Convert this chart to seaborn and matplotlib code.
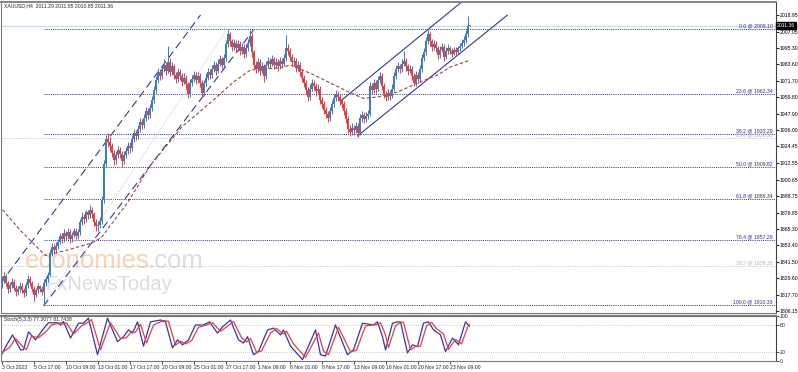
import matplotlib
matplotlib.use("Agg")
import matplotlib.pyplot as plt
import seaborn as sns
import numpy as np

# ---------------- datos ----------------
titulo = "XAUUSD,H4  2011.29 2011.85 2010.85 2011.36"
stoch_titulo = "Stoch(5,3,3) 77.3077 81.7438"

etiquetas_fecha = ["3 Oct 2023", "5 Oct 17:00", "10 Oct 09:00", "13 Oct 01:00", "17 Oct 17:00",
                   "20 Oct 09:00", "25 Oct 01:00", "27 Oct 17:00", "1 Nov 09:00", "6 Nov 01:00",
                   "8 Nov 17:00", "13 Nov 09:00", "16 Nov 01:00", "20 Nov 17:00", "23 Nov 09:00"]
barras_fecha = [0, 16, 32, 48, 64, 80, 96, 112, 128, 144, 160, 176, 192, 208, 224]

apertura_inicial = 1826
cierres = [1828, 1831, 1826, 1822, 1825, 1827, 1823, 1820, 1822, 1824, 1821, 1819, 1825, 1829, 1826, 1822,
           1818, 1821, 1824, 1822, 1820, 1826, 1829, 1832, 1848, 1852, 1850, 1853, 1856, 1860, 1858, 1862,
           1860, 1863, 1858, 1861, 1864, 1860, 1863, 1870, 1874, 1872, 1877, 1875, 1879, 1876, 1870, 1867,
           1868, 1871, 1886, 1912, 1930, 1928, 1925, 1920, 1915, 1918, 1922, 1919, 1914, 1918, 1921, 1925,
           1923, 1930, 1934, 1932, 1937, 1942, 1940, 1945, 1950, 1947, 1952, 1958, 1965, 1972, 1978, 1975,
           1980, 1983, 1979, 1985, 1978, 1982, 1976, 1973, 1978, 1975, 1971, 1974, 1969, 1962, 1970, 1973,
           1976, 1972, 1975, 1970, 1963, 1970, 1974, 1978, 1976, 1980, 1983, 1979, 1984, 1987, 1983, 1988,
           1998, 2005, 2000, 1996, 1999, 1995, 1998, 1993, 1996, 1991, 1995, 1999, 2004, 1992, 1983, 1980,
           1985, 1979, 1982, 1975, 1983, 1986, 1984, 1987, 1983, 1985, 1982, 1986, 1984, 1988, 1995, 1993,
           1989, 1985, 1986, 1981, 1983, 1978, 1974, 1970, 1965, 1960, 1966, 1970, 1968, 1964, 1966, 1958,
           1955, 1951, 1948, 1945, 1950, 1955, 1959, 1962, 1960, 1957, 1955, 1950, 1944, 1937, 1935, 1938,
           1936, 1939, 1934, 1945, 1947, 1944, 1946, 1948, 1968, 1965, 1970, 1966, 1972, 1975, 1968, 1962,
           1960, 1963, 1961, 1966, 1975, 1980, 1982, 1980, 1984, 1986, 1982, 1979, 1980, 1975, 1970, 1976,
           1973, 1980, 1988, 1992, 2000, 2005, 2000, 1996, 1998, 1995, 1990, 1994, 1996, 1989, 1993, 1995,
           1993, 1991, 1994, 1992, 1995, 1997, 1999, 2001, 2005, 2011.29, 2011.36]
maximos = [1831, 1834, 1833, 1828, 1827, 1830, 1829, 1825, 1824, 1827, 1826, 1823, 1827, 1832, 1831, 1828,
           1824, 1823, 1826, 1825, 1824, 1829, 1831, 1834, 1851, 1855, 1854, 1856, 1858, 1862, 1862, 1865,
           1864, 1866, 1865, 1863, 1866, 1866, 1865, 1872, 1877, 1876, 1879, 1879, 1882, 1881, 1877, 1872,
           1871, 1874, 1889, 1915, 1933, 1934, 1931, 1927, 1922, 1921, 1925, 1924, 1921, 1921, 1924, 1928,
           1928, 1933, 1937, 1936, 1940, 1945, 1944, 1948, 1953, 1952, 1955, 1961, 1968, 1975, 1981, 1980,
           1983, 1987, 1985, 1997, 1988, 1985, 1984, 1978, 1981, 1980, 1977, 1977, 1976, 1971, 1973, 1976,
           1979, 1978, 1978, 1977, 1972, 1972, 1977, 1981, 1980, 1983, 1986, 1985, 1987, 1990, 1989, 1991,
           2001, 2009.1, 2007, 2002, 2002, 2001, 2001, 2000, 1999, 1998, 1998, 2002, 2008, 2006, 1994, 1986,
           1988, 1987, 1985, 1984, 1986, 1989, 1988, 1990, 1989, 1988, 1987, 1989, 1988, 1991, 2004.5, 1998,
           1995, 1991, 1989, 1988, 1986, 1985, 1980, 1976, 1972, 1967, 1969, 1973, 1972, 1970, 1969, 1968,
           1960, 1957, 1953, 1950, 1953, 1958, 1962, 1965, 1964, 1962, 1959, 1957, 1952, 1946, 1940, 1941,
           1940, 1942, 1941, 1948, 1950, 1949, 1949, 1951, 1971, 1970, 1973, 1972, 1975, 1978, 1977, 1970,
           1964, 1966, 1965, 1969, 1978, 1983, 1985, 1984, 1987, 1993, 1988, 1984, 1983, 1982, 1977, 1979,
           1978, 1983, 1991, 1995, 2003, 2008.5, 2007, 2002, 2001, 2000, 1997, 1997, 1999, 1998, 1996, 1998,
           1997, 1995, 1996, 1996, 1997, 1999, 2002, 2004, 2008, 2018.5, 2011.85]
minimos = [1823, 1826, 1824, 1819, 1820, 1823, 1821, 1817, 1818, 1820, 1819, 1816, 1817, 1823, 1824, 1820,
           1813, 1816, 1819, 1820, 1818, 1810.33, 1824, 1827, 1831, 1846, 1847, 1848, 1851, 1854, 1855, 1856,
           1857, 1858, 1855, 1856, 1859, 1858, 1858, 1861, 1868, 1869, 1870, 1872, 1873, 1873, 1867, 1864,
           1864, 1866, 1869, 1884, 1910, 1924, 1921, 1917, 1911, 1912, 1916, 1916, 1910, 1912, 1916, 1919,
           1920, 1921, 1928, 1929, 1930, 1935, 1937, 1938, 1943, 1944, 1945, 1950, 1956, 1963, 1970, 1972,
           1973, 1978, 1976, 1977, 1975, 1976, 1973, 1970, 1971, 1972, 1968, 1969, 1966, 1959, 1960, 1968,
           1971, 1969, 1970, 1967, 1960, 1961, 1968, 1972, 1973, 1974, 1978, 1976, 1977, 1982, 1980, 1981,
           1986, 1996, 1997, 1993, 1994, 1992, 1993, 1990, 1991, 1988, 1989, 1993, 1997, 1989, 1980, 1977,
           1978, 1976, 1977, 1971, 1973, 1981, 1981, 1982, 1980, 1981, 1979, 1980, 1981, 1982, 1986, 1990,
           1986, 1982, 1982, 1978, 1979, 1975, 1971, 1967, 1962, 1957, 1958, 1964, 1965, 1961, 1962, 1955,
           1952, 1948, 1945, 1942, 1943, 1948, 1953, 1957, 1957, 1954, 1952, 1947, 1941, 1934, 1932, 1933,
           1933, 1934, 1931.5, 1933, 1942, 1941, 1942, 1944, 1946, 1962, 1963, 1963, 1964, 1970, 1965, 1959,
           1957, 1958, 1958, 1959, 1964, 1973, 1978, 1977, 1978, 1982, 1979, 1976, 1977, 1972, 1968, 1968,
           1970, 1971, 1978, 1986, 1990, 1998, 1997, 1993, 1994, 1992, 1987, 1988, 1992, 1986, 1987, 1991,
           1991, 1989, 1990, 1990, 1991, 1993, 1995, 1997, 1999, 2003, 2010.85]

# media movil (trazo marron)
ma_barra = [0.5, 9.5, 22, 33, 45, 50, 63, 74.5, 90.5, 104.5, 116, 124.5, 138, 144.5, 154.5, 164.5,
            174.5, 181, 188, 198, 208, 218, 224.5, 234.5]
ma_valor = [1879, 1864, 1846, 1850, 1855, 1859, 1884, 1911, 1939, 1956, 1970.8, 1979.4, 1980.8, 1983,
            1977, 1970, 1963, 1959, 1960, 1963.6, 1970, 1975.8, 1981.6, 1986.6]

# estocastico %K y %D
k_barra = [0, 2.5, 5.5, 9.5, 11, 13.5, 17, 20.5, 23.5, 28, 29.5, 31, 34.5, 38.5, 41, 43.5, 48, 53, 58,
           61, 63.5, 65.5, 68, 71, 74.5, 79.5, 82, 85.5, 88, 90.5, 93.5, 97, 101, 104, 108, 110.5, 114.5,
           118.5, 121, 123, 126, 128.5, 133, 136, 139.5, 141, 144.5, 150.5, 157, 159.5, 162, 167, 173,
           176, 180.5, 186, 188, 190.5, 192, 195.5, 198, 199.5, 203, 205.5, 208, 211, 213.5, 216, 219.5,
           222, 225.5, 228.5, 232, 234]
k_valor = [14, 35, 58, 25, 25, 65, 47, 69, 85, 85, 80, 88, 51, 84, 84, 95, 14, 95, 43, 54, 69, 62, 87,
           33, 87, 91, 87, 29, 47, 36, 47, 80, 80, 87, 62, 76, 91, 47, 40, 54, 14, 21, 69, 73, 58, 69, 33,
           3, 69, 14, 11, 80, 14, 25, 84, 80, 87, 54, 25, 84, 87, 87, 18, 36, 32, 84, 87, 69, 58, 21, 51,
           36, 87, 77.31]
d_barra = [0, 4, 7, 11, 12.5, 15, 18.5, 22, 25, 29.5, 31, 32.5, 36, 40, 42.5, 45, 49.5, 54.5, 59.5, 62.5,
           65, 67, 69.5, 72.5, 76, 81, 83.5, 87, 89.5, 92, 95, 98.5, 102.5, 105.5, 109.5, 112, 116, 120,
           122.5, 124.5, 127.5, 130, 134.5, 137.5, 141, 142.5, 146, 152, 158.5, 161, 163.5, 168.5, 174.5,
           177.5, 182, 187.5, 189.5, 192, 193.5, 197, 199.5, 201, 204.5, 207, 209.5, 212.5, 215, 217.5,
           221, 223.5, 227, 230, 233.5, 234]
d_valor = [18, 30, 50, 30, 26, 55, 52, 64, 80, 85, 82, 85, 60, 78, 84, 92, 25, 85, 50, 52, 65, 64, 82,
           40, 80, 90, 88, 35, 44, 38, 45, 75, 80, 85, 66, 74, 88, 52, 42, 50, 20, 22, 62, 72, 60, 66, 38,
           8, 62, 22, 14, 75, 20, 24, 78, 81, 85, 58, 30, 78, 86, 86, 25, 32, 33, 78, 86, 72, 60, 26, 48,
           38, 80, 81.74]

# fibonacci
fib_pct = ["0.0", "23.6", "38.2", "50.0", "61.8", "76.4", "100.0"]
fib_valor = [2009.10, 1962.34, 1933.29, 1909.82, 1886.34, 1857.29, 1810.33]
fib_inicio = 21
fib_gris_texto = ["23.6 @ 1930.55", "38.2 @ 1838.35"]
fib_gris_valor = [1930.55, 1838.35]

# lineas de tendencia (barra, precio)
canal_izq_sup = ([-0.5, 99.5], [1826.0, 2018.95])
canal_izq_inf = ([21, 126], [1809.7, 2008.2])
canal_der_sup = ([169.5, 240], [1957.1, 2040.0])
canal_der_inf = ([178, 253], [1932.0, 2018.95])
tend_fib = ([21, 113], [1810.33, 2009.10])

precio_actual = 2011.36
ticks_precio = [2018.95, 2007.05, 1995.30, 1983.60, 1971.70, 1959.80, 1947.90, 1936.00, 1924.45,
                1912.55, 1900.65, 1888.75, 1876.85, 1865.30, 1853.40, 1841.50, 1829.60, 1817.70, 1806.15]

# ---------------- grafico ----------------
sns.set_theme(style="white")
plt.rcParams['font.family'] = ['Liberation Sans', 'DejaVu Sans']
FS = 3.7

W, H = 798, 372
fig = plt.figure(figsize=(W / 100, H / 100), dpi=100)
ax = fig.add_axes([0.5 / W, (H - 313) / H, 775 / W, (313 - 2) / H])
ax2 = fig.add_axes([0.5 / W, (H - 361) / H, 775 / W, (361 - 316) / H], sharex=ax)

AZUL = "#3b7bbf"
ROJO = "#ee3a3a"
FIB = "#2a2aa8"
CANAL = "#3535b0"

c = np.array(cierres, dtype=float)
o = np.r_[apertura_inicial, c[:-1]]
idx = np.arange(len(c))
colores = np.where(c >= o, AZUL, ROJO)

# marca de agua
ax.text(25 / W, 1 - 268 / H, "economies", transform=fig.transFigure, fontsize=18.5,
        color="#fbd2b2", zorder=0.5)
ax.text(148 / W, 1 - 268 / H, ".com", transform=fig.transFigure, fontsize=18.5,
        color="#dedede", zorder=0.5)
ax.text(45 / W, 1 - 290 / H, "FxNewsToday", transform=fig.transFigure, fontsize=14.5,
        color="#dcdcdc", zorder=0.5)

# lineas horizontales
ax.axhline(precio_actual, color="#c6e4e4", lw=1, zorder=1)
for v in fib_gris_valor:
    ax.axhline(v, color="#bdbdbd", lw=0.7, linestyle=(0, (1, 1.5)), zorder=1)
ax.hlines(fib_valor, fib_inicio, 390, colors=FIB, lw=0.7, linestyles=(0, (1, 1.2)), zorder=1)
for p, v in zip(fib_pct, fib_valor):
    ax.text(385.5, v + 0.6, f"{p} @ {v:.2f}", ha="right", va="bottom", fontsize=FS, color=FIB)
for t, v in zip(fib_gris_texto, fib_gris_valor):
    ax.text(385.5, v + 0.3, t, ha="right", va="bottom", fontsize=FS, color="#b5b5b5")

# tendencias y canales
ax.plot(*tend_fib, color="#c8c8c8", lw=0.7, linestyle=(0, (1, 1.5)), zorder=1.5)
ax.plot(*canal_izq_sup, color=CANAL, lw=0.8, linestyle=(0, (7, 4)), zorder=2)
ax.plot(*canal_izq_inf, color=CANAL, lw=0.8, linestyle=(0, (7, 4)), zorder=2)
ax.plot(*canal_der_sup, color=CANAL, lw=0.8, zorder=2)
ax.plot(*canal_der_inf, color=CANAL, lw=0.8, zorder=2)

# velas
ax.vlines(idx, minimos, maximos, colors=colores, lw=0.7, zorder=3)
cuerpo = np.maximum(np.abs(c - o), 0.6)
ax.bar(idx, cuerpo, bottom=np.minimum(o, c), width=0.75, color=colores, lw=0, zorder=3)

# media movil
sns.lineplot(x=ma_barra, y=ma_valor, ax=ax, color="#a5423f", lw=0.8, sort=False,
             linestyle=(0, (3, 2)), zorder=2.5, legend=False)

ax.set_xlim(-0.5, 387)
ax.set_ylim(1804.7, 2028.3)
ax.text(0.004, 0.995, titulo, transform=ax.transAxes, va="top", fontsize=FS)

# eje de precios a la derecha
ax.yaxis.tick_right()
ax.set_yticks(ticks_precio)
ax.set_yticklabels([f"{t:.2f}" for t in ticks_precio])
ax.tick_params(axis="y", right=True, length=2, width=0.6, pad=0.8, labelsize=FS, colors="black")
ax.tick_params(axis="x", bottom=False, labelbottom=False)
ax.text(1.002, precio_actual, f"{precio_actual:.2f}", transform=ax.get_yaxis_transform(),
        va="center", ha="left", fontsize=FS, color="white",
        bbox=dict(boxstyle="square,pad=0.12", fc="black", ec="black"))

# panel del estocastico
ax2.axhline(80, color="#b8b8b8", lw=0.6, linestyle=(0, (1, 1.5)))
ax2.axhline(20, color="#b8b8b8", lw=0.6, linestyle=(0, (1, 1.5)))
sns.lineplot(x=k_barra, y=k_valor, ax=ax2, color="#3434b8", lw=0.9, sort=False, legend=False)
sns.lineplot(x=d_barra, y=d_valor, ax=ax2, color="#f23a3a", lw=0.9, sort=False, legend=False)
ax2.set_ylim(0, 100)
ax2.text(0.004, 0.97, stoch_titulo, transform=ax2.transAxes, va="top", fontsize=FS)
ax2.yaxis.tick_right()
ax2.set_yticks([100, 80, 20, 0])
ax2.set_yticklabels(["100", "80", "20", "0"])
ax2.tick_params(axis="y", right=True, length=2, width=0.6, pad=0.8, labelsize=FS)
ax2.set_xticks(barras_fecha)
ax2.set_xticklabels(etiquetas_fecha, ha="left")
ax2.tick_params(axis="x", bottom=True, length=2, width=0.6, pad=1, labelsize=FS)
ax2.set_xlabel("")
ax2.set_ylabel("")
ax.set_xlabel("")
ax.set_ylabel("")

for a in (ax, ax2):
    for s in a.spines.values():
        s.set_color("#7a7a7a")
        s.set_linewidth(0.8)
    a.spines["right"].set_color("#404040")
ax.spines["top"].set_linewidth(1.3)
ax2.spines["top"].set_linewidth(1.6)

fig.savefig("out.png", dpi=100)
